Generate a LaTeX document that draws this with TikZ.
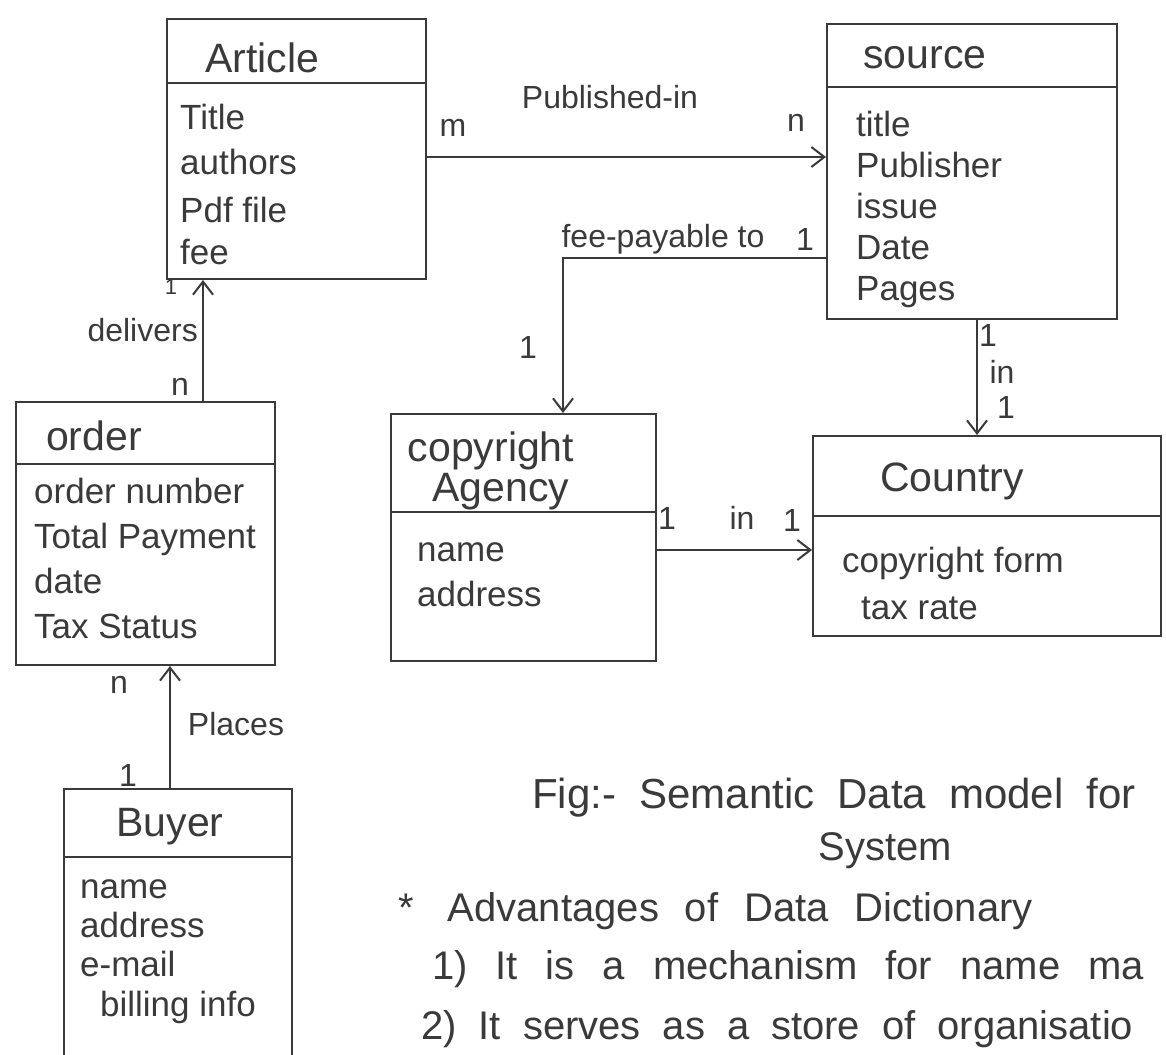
\documentclass[tikz,border=0pt]{standalone}
\usepackage{fontspec}
\setmainfont{Liberation Sans}
\usetikzlibrary{arrows.meta}
\definecolor{ink}{HTML}{3A3A3A}
\begin{document}
\begin{tikzpicture}[x=1pt,y=-1pt,
  inkline/.style={draw=ink, line width=2pt},
  entity/.style={inkline, rectangle, inner sep=0pt, anchor=north west},
  title/.style={text=ink, font=\fontsize{41}{48}\selectfont, inner sep=0pt},
  attr/.style={text=ink, font=\fontsize{35}{42}\selectfont, inner sep=0pt, anchor=base west},
  lbl/.style={text=ink, font=\fontsize{32}{38}\selectfont, inner sep=0pt},
  arr/.style={inkline, -{Straight Barb[length=13pt,width=20pt,line width=2pt]}},
  caption/.style={text=ink, font=\fontsize{40}{48}\selectfont, inner sep=0pt, anchor=base west},
]
\useasboundingbox (0,0) rectangle (1166,1054);
\clip (0,0) rectangle (1166,1054);
\fill[white] (0,0) rectangle (1166,1054);

% ---------- entity boxes ----------
\node[entity, minimum width=259pt, minimum height=260pt] (article) at (166,18) {};
\node[entity, minimum width=290pt, minimum height=295pt] (source)  at (826,23) {};
\node[entity, minimum width=259pt, minimum height=263pt] (order)   at (15,401) {};
\node[entity, minimum width=265pt, minimum height=247pt] (agency)  at (390,413) {};
\node[entity, minimum width=348pt, minimum height=200pt] (country) at (812,435) {};
\node[entity, minimum width=228pt, minimum height=290pt] (buyer)   at (63,788) {};

% header dividers
\coordinate (dArt) at (0,83);   \draw[inkline] (article.west |- dArt) -- (article.east |- dArt);
\coordinate (dSrc) at (0,87);   \draw[inkline] (source.west |- dSrc) -- (source.east |- dSrc);
\coordinate (dOrd) at (0,464);  \draw[inkline] (order.west |- dOrd) -- (order.east |- dOrd);
\coordinate (dAg)  at (0,512);  \draw[inkline] (agency.west |- dAg) -- (agency.east |- dAg);
\coordinate (dCo)  at (0,516);  \draw[inkline] (country.west |- dCo) -- (country.east |- dCo);
\coordinate (dBuy) at (0,857);  \draw[inkline] (buyer.west |- dBuy) -- (buyer.east |- dBuy);

% ---------- titles ----------
\node[title] (tArt) at (262,58) {Article};
\node[title] (tSrc) at (925,58) {source};
\node[title] (tOrd) at (94,436) {order};
\node[title] (tAg1) at (491,451) {copyright};
\node[title] (tAg2) at (501,492) {Agency};
\node[title] (tCo)  at (952,481) {Country};
\node[title] (tBuy) at (170,827) {Buyer};

% ---------- attributes ----------
\node[attr] (a1) at (180,129) {Title};
\node[attr] (a2) at (180,174) {authors};
\node[attr] (a3) at (180,222) {Pdf file};
\node[attr] (a4) at (180,264) {fee};

\node[attr] (s1) at (856,136) {title};
\node[attr] (s2) at (856,177) {Publisher};
\node[attr] (s3) at (856,218) {issue};
\node[attr] (s4) at (856,259) {Date};
\node[attr] (s5) at (856,300) {Pages};

\node[attr] (o1) at (34,503) {order number};
\node[attr] (o2) at (34,548) {Total Payment};
\node[attr] (o3) at (34,593) {date};
\node[attr] (o4) at (34,638) {Tax Status};

\node[attr] (g1) at (417,561) {name};
\node[attr] (g2) at (417,606) {address};

\node[attr] (c1) at (842,572) {copyright form};
\node[attr] (c2) at (861,619) {tax rate};

\node[attr] (b1) at (80,898) {name};
\node[attr] (b2) at (80,937) {address};
\node[attr] (b3) at (80,976) {e-mail};
\node[attr] (b4) at (100,1016) {billing info};

% ---------- relationships ----------
\coordinate (yPub) at (0,157);
\draw[arr] (article.east |- yPub) -- (source.west |- yPub);
\node[lbl] (lPub) at (610,97) {Published-in};
\node[lbl] (lPubM) at (453,128) {m};
\node[lbl] (lPubN) at (796,123) {n};

\coordinate (xDel) at (203,0);
\draw[arr] (order.north -| xDel) -- (article.south -| xDel);
\node[lbl, anchor=east] (lDel) at (198,330) {delivers};
\node[lbl] (lDelN) at (180,387) {n};
\node[lbl, font=\fontsize{22}{26}\selectfont] (lDel1) at (171,287) {1};

\coordinate (yFee) at (0,258);
\coordinate (feeBend) at (563,258);
\draw[arr] (source.west |- yFee) -- (feeBend) -- (feeBend |- agency.north);
\node[lbl] (lFee) at (663,239) {fee-payable to};
\node[lbl] (lFee1) at (805,239) {1};
\node[lbl] (lFee2) at (528,347) {1};

\coordinate (xIn) at (977,0);
\draw[arr] (source.south -| xIn) -- (country.north -| xIn);
\node[lbl] (lIn1) at (988,335) {1};
\node[lbl] (lIn) at (1002,372) {in};
\node[lbl] (lIn2) at (1006,407) {1};

\coordinate (yLoc) at (0,550);
\draw[arr] (agency.east |- yLoc) -- (country.west |- yLoc);
\node[lbl] (lLoc1) at (667,518) {1};
\node[lbl] (lLoc) at (742,518) {in};
\node[lbl] (lLoc2) at (792,520) {1};

\coordinate (xPl) at (170,0);
\draw[arr] (buyer.north -| xPl) -- (order.south -| xPl);
\node[lbl] (lPl) at (236,724) {Places};
\node[lbl] (lPlN) at (119,685) {n};
\node[lbl] (lPl1) at (128,775) {1};

% ---------- caption and notes ----------
\node[caption, font=\fontsize{42}{50}\selectfont] (fig) at (532,808) {\spaceskip=0.55em\relax Fig:- Semantic Data model for};
\node[caption, anchor=base] (sys) at (885,860) {System};
\node[caption] (adv) at (398,921) {\spaceskip=0.65em\relax *\hspace{34pt}Advantages of Data Dictionary};
\node[caption] (p1) at (432,979) {\spaceskip=0.7em\relax 1) It is a mechanism for name ma};
\node[caption] (p2) at (421,1039) {\spaceskip=0.55em\relax 2) It serves as a store of organisatio};
\end{tikzpicture}
\end{document}
